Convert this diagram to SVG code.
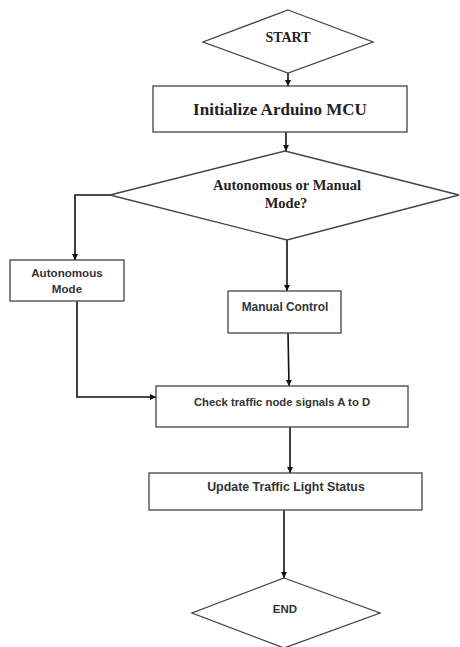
<svg xmlns="http://www.w3.org/2000/svg" width="460" height="647" viewBox="0 0 460 647">
<style>
.shape{fill:#fff;stroke:#444;stroke-width:1.3}
.conn{fill:none;stroke:#111;stroke-width:1.6}
.serif{font-family:"Liberation Serif","Times New Roman",serif;font-weight:bold;fill:#222;text-anchor:middle}
.sans{font-family:"Liberation Sans",Arial,sans-serif;font-weight:bold;fill:#333;text-anchor:middle}
</style>
<defs>
<marker id="arr" viewBox="0 0 10 10" refX="10" refY="5" markerWidth="6" markerHeight="6" orient="auto" markerUnits="userSpaceOnUse">
<path d="M0,0 L10,5 L0,10 z" fill="#111"/>
</marker>
</defs>
<rect width="460" height="647" fill="#fff"/>
<g id="connectors">
<path class="conn" d="M288,73 L288,86" marker-end="url(#arr)"/>
<path class="conn" d="M286,132 L286,151" marker-end="url(#arr)"/>
<path class="conn" d="M110,195 L75,195 L75,260" marker-end="url(#arr)"/>
<path class="conn" d="M287,240 L287,291" marker-end="url(#arr)"/>
<path class="conn" d="M77,301 L77,397 L156,397" marker-end="url(#arr)"/>
<path class="conn" d="M288,333 L289,386" marker-end="url(#arr)"/>
<path class="conn" d="M290,427 L290,473" marker-end="url(#arr)"/>
<path class="conn" d="M284,510 L284,578" marker-end="url(#arr)"/>
</g>
<g id="start">
<polygon class="shape" points="288,10 373,42 288,73 203,42"/>
<text class="serif" x="288" y="42" font-size="14">START</text>
</g>
<g id="init">
<rect class="shape" x="153" y="86" width="254" height="46"/>
<text class="serif" x="280" y="115" font-size="17">Initialize Arduino MCU</text>
</g>
<g id="decision">
<polygon class="shape" points="285,151 459,195 287,240 110,195"/>
<text class="serif" x="287" y="190" font-size="14.5">Autonomous or Manual</text>
<text class="serif" x="286" y="208" font-size="14.5">Mode?</text>
</g>
<g id="autonomous">
<rect class="shape" x="10" y="260" width="114" height="41"/>
<text class="sans" x="67" y="277" font-size="11.6">Autonomous</text>
<text class="sans" x="67" y="293" font-size="11.6">Mode</text>
</g>
<g id="manual">
<rect class="shape" x="228" y="291" width="113" height="42"/>
<text class="sans" x="285" y="311" font-size="11.9">Manual Control</text>
</g>
<g id="check">
<rect class="shape" x="156" y="386" width="252" height="41"/>
<text class="sans" x="282" y="406" font-size="11.3">Check traffic node signals A to D</text>
</g>
<g id="update">
<rect class="shape" x="149" y="473" width="273" height="37"/>
<text class="sans" x="286" y="491" font-size="12.4">Update Traffic Light Status</text>
</g>
<g id="end">
<polygon class="shape" points="284,578 380,613 284,648 192,613"/>
<text class="sans" x="285" y="613" font-size="11.5">END</text>
</g>
</svg>
